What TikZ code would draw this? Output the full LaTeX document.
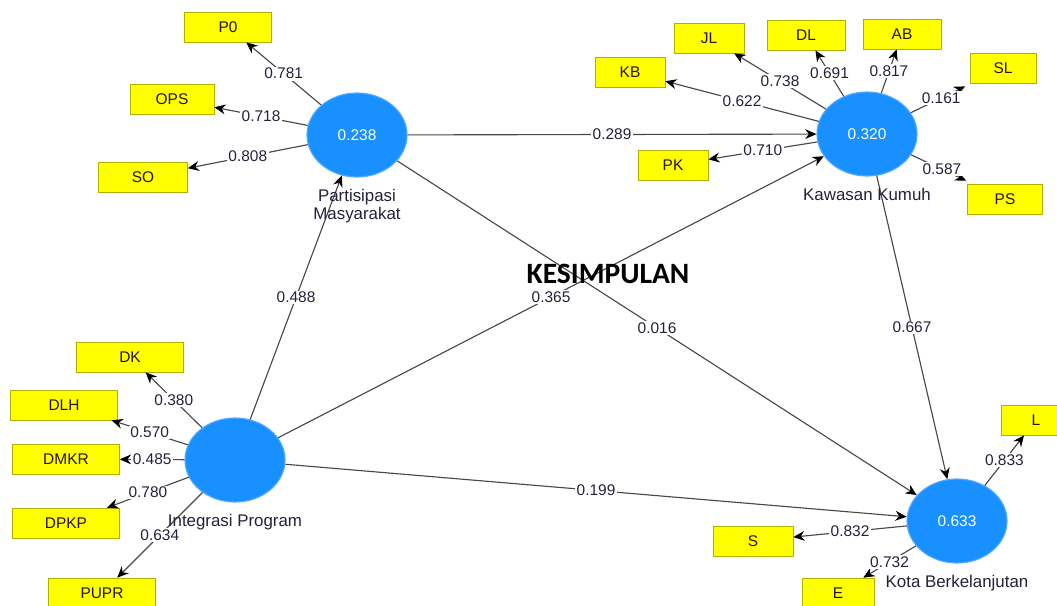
\documentclass[tikz,border=0pt]{standalone}
\usepackage{fontspec}
\setmainfont{Liberation Sans}
\newfontfamily\calibrifont{Carlito}
\usetikzlibrary{positioning,shapes.geometric,arrows.meta}
\definecolor{PlsBlue}{HTML}{1890FF}
\definecolor{PlsRim}{HTML}{55AAFF}
\definecolor{PlsYellow}{HTML}{FFFF00}
\definecolor{PlsOlive}{HTML}{B0B000}
\definecolor{Ink}{HTML}{22223A}
\definecolor{BoxInk}{HTML}{2A1500}
\definecolor{Wire}{HTML}{484848}
\tikzset{
  lv node/.style={ellipse,fill=PlsBlue,draw=PlsRim,thick,text=white,
    minimum width=2.5cm,minimum height=2.1cm,inner sep=0pt,
    font=\fontsize{11}{13}\selectfont},
  ind box/.style={rectangle,fill=PlsYellow,draw=PlsOlive,minimum height=.75cm,
    inner sep=2pt,text=BoxInk,font=\fontsize{11}{13}\selectfont},
  lv name/.style={align=center,inner sep=1pt,text=Ink,
    font=\fontsize{12}{13}\selectfont},
  path arrow/.style={-{Stealth[length=8pt,width=7pt,color=black]},line width=.8pt,draw=Wire},
  coef/.style={midway,fill=white,inner sep=1pt,text=Ink,font=\fontsize{11}{13}\selectfont}
}
\begin{document}
\begin{tikzpicture}[x=0.025cm,y=-0.025cm]
  \fill[white] (0,0) rectangle (1057,605);
  \useasboundingbox (0,0) rectangle (1057,605);
  % latent variables
  \node[lv node] (PM) at (357,135) {0.238};
  \node[lv node] (KK) at (867,134) {0.320};
  \node[lv node] (IP) at (235,460) {};
  \node[lv node] (KBL) at (957,521) {0.633};
  % indicators
  \node[ind box,minimum width=2.175cm] (P0) at (228,27) {P0};
  \node[ind box,minimum width=2.1cm] (OPS) at (172,99) {OPS};
  \node[ind box,minimum width=2.225cm] (SO) at (143,177) {SO};
  \node[ind box,minimum width=1.75cm] (KB) at (630,72) {KB};
  \node[ind box,minimum width=1.75cm] (JL) at (709,38) {JL};
  \node[ind box,minimum width=1.95cm] (DL) at (806,35) {DL};
  \node[ind box,minimum width=1.95cm] (AB) at (902,34) {AB};
  \node[ind box,minimum width=1.65cm] (SL) at (1003,68) {SL};
  \node[ind box,minimum width=1.75cm] (PK) at (673,165) {PK};
  \node[ind box,minimum width=1.875cm] (PS) at (1005,199) {PS};
  \node[ind box,minimum width=2.675cm] (DK) at (130,357) {DK};
  \node[ind box,minimum width=2.675cm] (DLH) at (64,405) {DLH};
  \node[ind box,minimum width=2.675cm] (DMKR) at (66,459) {DMKR};
  \node[ind box,minimum width=2.675cm] (DPKP) at (66,523) {DPKP};
  \node[ind box,minimum width=2.675cm] (PUPR) at (102,593) {PUPR};
  \node[ind box,minimum width=1.75cm] (L) at (1036,420) {L};
  \node[ind box,minimum width=2cm] (S) at (753,541) {S};
  \node[ind box,minimum width=1.8cm] (E) at (838,593) {E};
  % outer loadings
  \draw[path arrow] (PM) -- node[coef]{0.781} (P0);
  \draw[path arrow] (PM) -- node[coef]{0.718} (OPS);
  \draw[path arrow] (PM) -- node[coef]{0.808} (SO);
  \draw[path arrow] (KK) -- node[coef]{0.622} (KB);
  \draw[path arrow] (KK) -- node[coef]{0.738} (JL);
  \draw[path arrow] (KK) -- node[coef]{0.691} (DL);
  \draw[path arrow] (KK) -- node[coef]{0.817} (AB);
  \draw[path arrow,shorten >=5pt] (KK) -- node[coef]{0.161} (SL);
  \draw[path arrow] (KK) -- node[coef]{0.710} (PK);
  \draw[path arrow,shorten >=5pt] (KK) -- node[coef]{0.587} (PS);
  \draw[path arrow] (IP) -- node[coef]{0.380} (DK);
  \draw[path arrow] (IP) -- node[coef]{0.570} (DLH);
  \draw[path arrow] (IP) -- node[coef]{0.485} (DMKR);
  \draw[path arrow] (IP) -- node[coef]{0.780} (DPKP);
  \draw[path arrow] (IP) -- node[coef]{0.634} (PUPR);
  \draw[path arrow] (KBL) -- node[coef]{0.833} (L);
  \draw[path arrow] (KBL) -- node[coef]{0.832} (S);
  \draw[path arrow] (KBL) -- node[coef]{0.732} (E);
  % inner model
  \draw[path arrow] (PM) -- node[coef]{0.289} (KK);
  \draw[path arrow] (IP) -- node[coef]{0.488} (PM);
  \draw[path arrow] (IP) -- node[coef]{0.365} (KK);
  \draw[path arrow] (PM) -- node[coef]{0.016} (KBL);
  \draw[path arrow] (KK) -- node[coef]{0.667} (KBL);
  \draw[path arrow] (IP) -- node[coef]{0.199} (KBL);
  % names
  \node[lv name,below=7pt of PM] (PMname) {Partisipasi\\Masyarakat};
  \node[lv name,below=7pt of KK] (KKname) {Kawasan Kumuh};
  \node[lv name,below=7pt of IP] (IPname) {Integrasi Program};
  \node[lv name,below=7pt of KBL] (KBLname) {Kota Berkelanjutan};
  \node[font=\calibrifont\bfseries\fontsize{21}{25}\selectfont] (title) at (608,274) {KESIMPULAN};
\end{tikzpicture}
\end{document}
